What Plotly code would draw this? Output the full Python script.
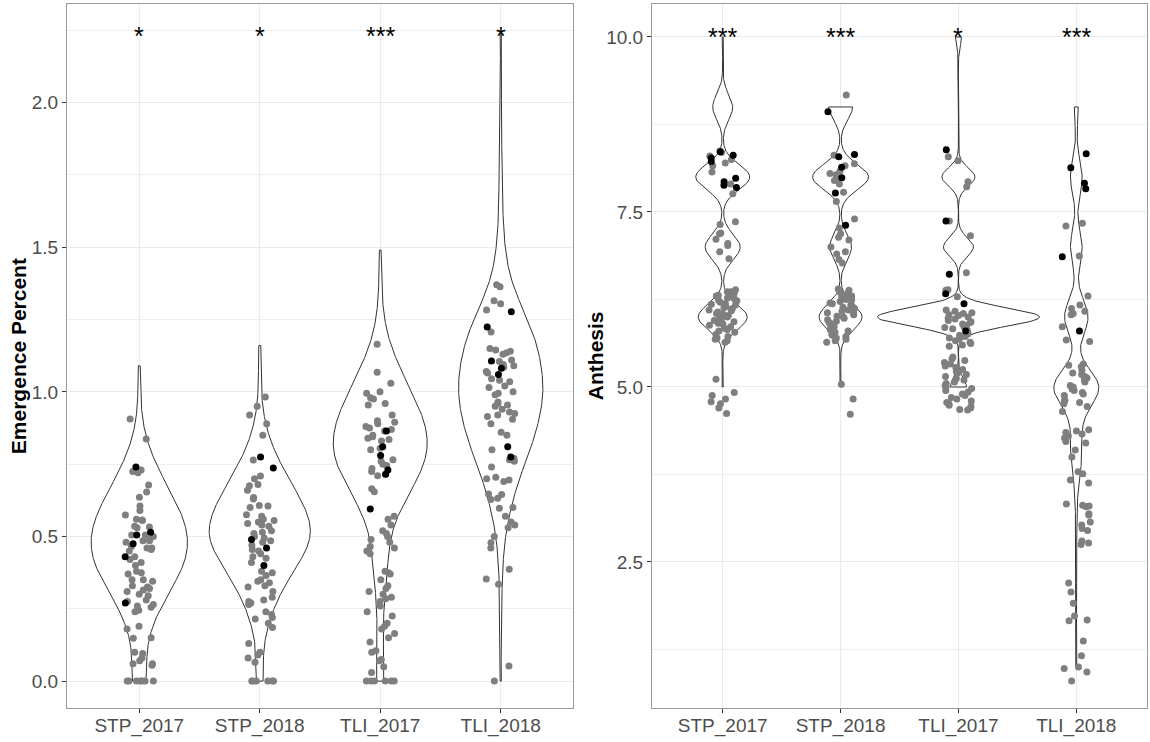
import numpy as np
import plotly.graph_objects as go

# ---------------------------------------------------------------- categories
groups = ["STP_2017", "STP_2018", "TLI_2017", "TLI_2018"]

# ---------------------------------------------------------------- emergence: violin data (observed value, number of plants)
emer_stp17_levels = [0.0, 0.1, 0.2, 0.3, 0.4, 0.5, 0.6, 0.7, 0.8, 0.9, 1.0, 1.09]
emer_stp17_counts = [9, 5, 12, 26, 44, 48, 38, 22, 9, 2, 1, 1]
emer_stp18_levels = [0.0, 0.1, 0.2, 0.3, 0.4, 0.5, 0.6, 0.7, 0.8, 0.9, 1.0, 1.1, 1.16]
emer_stp18_counts = [5, 2, 8, 19, 38, 57, 47, 29, 13, 4, 1, 1, 1]
emer_tli17_levels = [0.0, 0.1, 0.2, 0.3, 0.4, 0.5, 0.6, 0.7, 0.8, 0.9, 1.0, 1.1, 1.2, 1.3, 1.4, 1.49]
emer_tli17_counts = [5, 3, 3, 4, 8, 9, 20, 39, 51, 46, 32, 17, 6, 2, 1, 1]
emer_tli18_levels = [0.0, 0.2, 0.3, 0.4, 0.5, 0.6, 0.7, 0.8, 0.9, 1.0, 1.1, 1.2, 1.3, 1.4,
                     1.5, 1.6, 1.7, 1.8, 1.9, 2.0, 2.24]
emer_tli18_counts = [1, 1, 1, 2, 4, 10, 18, 30, 39, 44, 41, 34, 20, 8, 4, 2, 2, 1, 1, 1, 1]

# ---------------------------------------------------------------- emergence: line means (grey) and checks (black)
emer_stp17_grey = [0.906, 0.837, 0.73, 0.72, 0.725, 0.678, 0.654, 0.636, 0.605, 0.59, 0.574, 0.557,
                   0.555, 0.56, 0.533, 0.535, 0.53, 0.505, 0.50, 0.505, 0.49, 0.485, 0.48, 0.485,
                   0.46, 0.465, 0.46, 0.45, 0.455, 0.42, 0.43, 0.41, 0.40, 0.38, 0.375, 0.37, 0.35,
                   0.345, 0.35, 0.33, 0.325, 0.32, 0.315, 0.31, 0.30, 0.295, 0.28, 0.275, 0.26,
                   0.265, 0.255, 0.245, 0.24, 0.19, 0.18, 0.15, 0.148, 0.10, 0.095, 0.08, 0.07,
                   0.06, 0.055, 0.06, 0.0, 0.0, 0.0, 0.0, 0.0, 0.0, 0.0]
emer_stp17_black = [0.74, 0.515, 0.505, 0.475, 0.43, 0.27]
emer_stp18_grey = [0.982, 0.95, 0.92, 0.89, 0.85, 0.764, 0.709, 0.70, 0.68, 0.675, 0.66, 0.635,
                   0.63, 0.607, 0.605, 0.60, 0.575, 0.57, 0.56, 0.555, 0.55, 0.545, 0.54, 0.535,
                   0.52, 0.515, 0.51, 0.50, 0.495, 0.485, 0.48, 0.47, 0.455, 0.45, 0.44, 0.43,
                   0.425, 0.41, 0.38, 0.375, 0.365, 0.35, 0.345, 0.34, 0.33, 0.325, 0.31, 0.29,
                   0.28, 0.275, 0.27, 0.265, 0.24, 0.23, 0.22, 0.215, 0.2, 0.185, 0.13, 0.10,
                   0.09, 0.08, 0.065, 0.0, 0.0, 0.0, 0.0, 0.0, 0.0]
emer_stp18_black = [0.775, 0.737, 0.49, 0.46, 0.40]
emer_tli17_grey = [1.165, 1.068, 1.03, 1.0, 0.995, 0.98, 0.975, 0.96, 0.955, 0.92, 0.90, 0.895,
                   0.89, 0.88, 0.875, 0.87, 0.865, 0.85, 0.845, 0.84, 0.835, 0.83, 0.805, 0.80,
                   0.765, 0.76, 0.75, 0.745, 0.735, 0.725, 0.715, 0.71, 0.665, 0.655, 0.57, 0.56,
                   0.54, 0.52, 0.51, 0.50, 0.49, 0.48, 0.465, 0.46, 0.45, 0.44, 0.38, 0.375, 0.37,
                   0.35, 0.33, 0.32, 0.31, 0.30, 0.29, 0.285, 0.275, 0.26, 0.24, 0.225, 0.20, 0.19,
                   0.18, 0.165, 0.15, 0.135, 0.105, 0.10, 0.075, 0.07, 0.05, 0.03, 0.0, 0.0, 0.0,
                   0.0, 0.0, 0.0]
emer_tli17_black = [0.865, 0.81, 0.78, 0.73, 0.715, 0.595]
emer_tli18_grey = [1.37, 1.363, 1.315, 1.305, 1.283, 1.207, 1.15, 1.145, 1.14, 1.135, 1.13, 1.11,
                   1.105, 1.095, 1.09, 1.085, 1.07, 1.065, 1.045, 1.04, 1.035, 1.02, 1.015, 1.0,
                   0.995, 0.99, 0.965, 0.96, 0.955, 0.95, 0.94, 0.93, 0.925, 0.92, 0.915, 0.905,
                   0.89, 0.86, 0.85, 0.80, 0.77, 0.765, 0.76, 0.74, 0.705, 0.70, 0.695, 0.69,
                   0.647, 0.645, 0.632, 0.628, 0.60, 0.598, 0.57, 0.55, 0.54, 0.53, 0.50, 0.478,
                   0.46, 0.387, 0.353, 0.335, 0.052, 0.0]
emer_tli18_black = [1.277, 1.224, 1.107, 1.082, 1.06, 0.81, 0.775]
emer_signif = ["*", "*", "***", "*"]

# ---------------------------------------------------------------- anthesis: violin data (score, number of plants)
anth_stp17_levels = [5, 6, 7, 8, 9, 10]
anth_stp17_counts = [1, 49, 35, 54, 20, 1]
anth_stp18_levels = [5, 6, 7, 8, 9]
anth_stp18_counts = [1, 43, 22, 56, 24]
anth_tli17_levels = [5, 6, 7, 8, 10]
anth_tli17_counts = [16, 162, 30, 33, 6]
anth_tli18_levels = [1, 2, 3, 3.5, 4, 4.5, 5, 6, 7, 8, 9]
anth_tli18_counts = [1, 1, 1, 2, 10, 8, 45, 24, 12, 12, 4]

# ---------------------------------------------------------------- anthesis: line means (grey) and checks (black)
anth_stp17_grey = [8.37, 8.35, 8.3, 8.25, 8.2, 8.16, 8.07, 7.9, 7.76, 7.36, 7.32, 7.2, 7.19, 7.11,
                   7.05, 7.02, 6.93, 6.83, 6.39, 6.36, 6.36, 6.34, 6.31, 6.3, 6.29, 6.27, 6.26,
                   6.24, 6.23, 6.21, 6.19, 6.18, 6.17, 6.15, 6.13, 6.12, 6.1, 6.09, 6.07, 6.05,
                   6.04, 6.02, 6.0, 5.98, 5.97, 5.95, 5.93, 5.91, 5.9, 5.88, 5.86, 5.84, 5.82, 5.8,
                   5.78, 5.75, 5.72, 5.7, 5.68, 5.66, 5.64, 5.11, 4.92, 4.88, 4.83, 4.79, 4.76,
                   4.7, 4.62]
anth_stp17_black = [8.36, 8.31, 8.27, 8.22, 7.98, 7.93, 7.88, 7.85]
anth_stp18_grey = [9.17, 8.31, 8.19, 8.16, 8.08, 8.05, 8.03, 7.98, 7.95, 7.9, 7.78, 7.65, 7.4,
                   7.27, 7.19, 7.14, 7.1, 7.0, 6.93, 6.9, 6.82, 6.77, 6.4, 6.38, 6.35, 6.33, 6.3,
                   6.29, 6.27, 6.25, 6.24, 6.22, 6.2, 6.19, 6.17, 6.15, 6.14, 6.12, 6.1, 6.08,
                   6.06, 6.05, 6.03, 6.01, 6.0, 5.98, 5.96, 5.94, 5.92, 5.9, 5.88, 5.86, 5.84,
                   5.82, 5.8, 5.78, 5.76, 5.74, 5.72, 5.7, 5.68, 5.66, 5.64, 5.04, 4.83, 4.61]
anth_stp18_black = [8.93, 8.32, 8.29, 8.14, 7.99, 7.77, 7.31]
anth_tli17_grey = [8.29, 8.23, 7.93, 7.86, 7.37, 7.16, 6.63, 6.39, 6.38, 6.29, 6.1, 6.08, 6.06,
                   6.05, 6.03, 6.02, 6.0, 5.98, 5.97, 5.95, 5.93, 5.92, 5.9, 5.88, 5.86, 5.85,
                   5.83, 5.81, 5.78, 5.76, 5.74, 5.72, 5.7, 5.68, 5.66, 5.64, 5.62, 5.6, 5.58,
                   5.43, 5.4, 5.38, 5.35, 5.33, 5.3, 5.28, 5.25, 5.22, 5.2, 5.18, 5.15, 5.12, 5.1,
                   5.07, 5.05, 5.02, 5.0, 4.98, 4.95, 4.93, 4.9, 4.88, 4.85, 4.83, 4.8, 4.78, 4.76,
                   4.74, 4.72, 4.7, 4.68, 4.67]
anth_tli17_black = [8.39, 7.37, 6.61, 6.33, 6.19, 5.8]
anth_tli18_grey = [7.34, 7.3, 6.87, 6.3, 6.17, 6.12, 6.08, 6.05, 6.03, 5.86, 5.67, 5.65, 5.33,
                   5.31, 5.29, 5.24, 5.2, 5.18, 5.15, 5.13, 5.1, 5.07, 5.02, 5.0, 4.97, 4.95,
                   4.92, 4.9, 4.88, 4.81, 4.8, 4.78, 4.76, 4.72, 4.65, 4.39, 4.37, 4.35, 4.33,
                   4.3, 4.27, 4.22, 4.2, 4.1, 4.0, 3.79, 3.76, 3.67, 3.63, 3.33, 3.31, 3.3, 3.29,
                   3.19, 3.17, 3.07, 3.03, 2.98, 2.95, 2.8, 2.77, 2.75, 2.2, 2.07, 1.91, 1.73,
                   1.67, 1.66, 1.37, 1.16, 1.0, 0.98, 0.93, 0.8]
anth_tli18_black = [8.33, 8.13, 7.91, 7.83, 6.86, 5.8]
anth_signif = ["***", "***", "*", "***"]

# ---------------------------------------------------------------- drawing settings
emer_bw = [0.07, 0.07, 0.07, 0.07]
emer_halfwidth = [0.40, 0.42, 0.39, 0.35]
anth_bw = [0.18, 0.18, 0.13, 0.25]
anth_halfwidth = [0.229, 0.237, 0.687, 0.191]
JITTER = 0.24
GREY = "#7F7F7F"
FONT = "Liberation Sans, Arial, sans-serif"

emer_violins = [(emer_stp17_levels, emer_stp17_counts), (emer_stp18_levels, emer_stp18_counts),
                (emer_tli17_levels, emer_tli17_counts), (emer_tli18_levels, emer_tli18_counts)]
emer_points = [(emer_stp17_grey, emer_stp17_black), (emer_stp18_grey, emer_stp18_black),
               (emer_tli17_grey, emer_tli17_black), (emer_tli18_grey, emer_tli18_black)]
anth_violins = [(anth_stp17_levels, anth_stp17_counts), (anth_stp18_levels, anth_stp18_counts),
                (anth_tli17_levels, anth_tli17_counts), (anth_tli18_levels, anth_tli18_counts)]
anth_points = [(anth_stp17_grey, anth_stp17_black), (anth_stp18_grey, anth_stp18_black),
               (anth_tli17_grey, anth_tli17_black), (anth_tli18_grey, anth_tli18_black)]


def violin_outline(levels, counts, bw, halfwidth, center):
    """Gaussian kernel density trimmed to the data range, mirrored around center."""
    lv = np.asarray(levels, float)
    ct = np.asarray(counts, float)
    y = np.linspace(lv.min(), lv.max(), 512)
    dens = (ct[None, :] * np.exp(-0.5 * ((y[:, None] - lv[None, :]) / bw) ** 2)).sum(axis=1)
    w = halfwidth * dens / dens.max()
    xs = np.concatenate([center - w, (center + w)[::-1], [center - w[0]]])
    ys = np.concatenate([y, y[::-1], [y[0]]])
    return xs, ys


def jitter(n, seed):
    """Deterministic horizontal spread in [-0.5, 0.5)."""
    i = np.arange(n) + seed * 131.0
    h = np.sin(i * 12.9898 + 78.233) * 43758.5453
    return (h - np.floor(h)) - 0.5


fig = go.Figure()

panels = [
    ("x", "y", emer_violins, emer_points, emer_bw, emer_halfwidth, 0),
    ("x2", "y2", anth_violins, anth_points, anth_bw, anth_halfwidth, 10),
]
for xa, ya, violins, points, bws, hws, seed0 in panels:
    for k, ((lv, ct), (grey, black)) in enumerate(zip(violins, points)):
        center = k + 1
        vx, vy = violin_outline(lv, ct, bws[k], hws[k], center)
        fig.add_trace(go.Scatter(x=vx, y=vy, xaxis=xa, yaxis=ya, mode="lines",
                                 fill="toself", fillcolor="white",
                                 line=dict(color="#333333", width=1), hoverinfo="skip"))
        gx = center + JITTER * jitter(len(grey), seed0 + 2 * k)
        fig.add_trace(go.Scatter(x=gx, y=grey, xaxis=xa, yaxis=ya, mode="markers",
                                 marker=dict(color=GREY, size=7)))
        bx = center + JITTER * jitter(len(black), seed0 + 2 * k + 1)
        fig.add_trace(go.Scatter(x=bx, y=black, xaxis=xa, yaxis=ya, mode="markers",
                                 marker=dict(color="black", size=7)))

# significance stars above each group
annotations = []
for k, s in enumerate(emer_signif):
    annotations.append(dict(x=k + 1, y=2.23, xref="x", yref="y", text=s, showarrow=False,
                            font=dict(size=25, color="black", family=FONT)))
for k, s in enumerate(anth_signif):
    annotations.append(dict(x=k + 1, y=10.0, xref="x2", yref="y2", text=s, showarrow=False,
                            font=dict(size=25, color="black", family=FONT)))

# axis titles
annotations.append(dict(x=18 / 1150, y=0.52, xref="paper", yref="paper", text="Emergence Percent",
                        textangle=-90, showarrow=False, xanchor="center", yanchor="middle",
                        font=dict(size=21, color="black", family=FONT, weight="bold")))
annotations.append(dict(x=595 / 1150, y=0.52, xref="paper", yref="paper", text="Anthesis",
                        textangle=-90, showarrow=False, xanchor="center", yanchor="middle",
                        font=dict(size=21, color="black", family=FONT, weight="bold")))

tickfont = dict(size=19, color="#4D4D4D", family=FONT)
frame = dict(showline=True, mirror=True, linecolor="#999999", linewidth=1, zeroline=False,
             ticks="outside", ticklen=4, tickcolor="#333333", tickfont=tickfont,
             gridcolor="#EBEBEB", gridwidth=1, showgrid=True)

x_common = dict(range=[0.4, 4.6], tickvals=[1, 2, 3, 4], ticktext=groups,
                ticklabelstandoff=-4, **frame)

ydom = [1 - 708 / 742, 1 - 4 / 742]
fig.update_layout(
    width=1150, height=742,
    margin=dict(l=0, r=0, t=0, b=0),
    paper_bgcolor="white", plot_bgcolor="white",
    showlegend=False,
    font=dict(family=FONT),
    xaxis=dict(domain=[67 / 1150, 573 / 1150], anchor="y", **x_common),
    xaxis2=dict(domain=[652 / 1150, 1147 / 1150], anchor="y2", **x_common),
    yaxis=dict(domain=ydom, anchor="x", range=[-0.093, 2.341], tick0=0, dtick=0.5,
               tickformat=".1f",
               minor=dict(tick0=0, dtick=0.25, showgrid=True, gridcolor="#EFEFEF", ticks=""),
               **frame),
    yaxis2=dict(domain=ydom, anchor="x2", range=[0.414, 10.471], tick0=0, dtick=2.5,
                tickformat=".1f",
                minor=dict(tick0=0, dtick=1.25, showgrid=True, gridcolor="#EFEFEF", ticks=""),
                **frame),
    annotations=annotations,
)

fig.write_html("out.html")
